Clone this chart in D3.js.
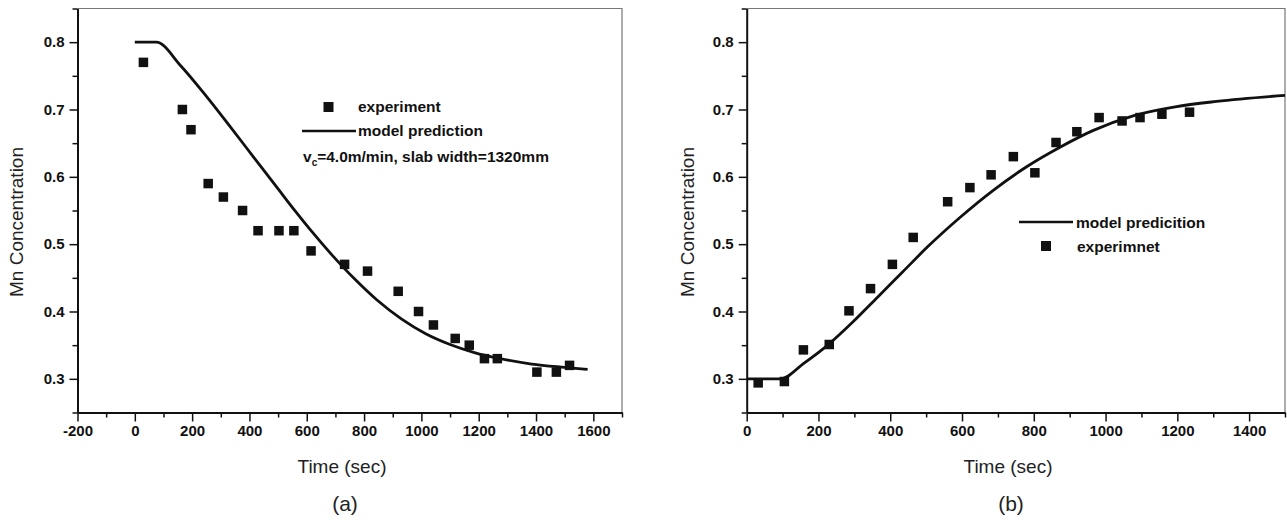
<!DOCTYPE html>
<html>
<head>
<meta charset="utf-8">
<script src="https://cdn.jsdelivr.net/npm/d3@7"></script>
<style>
  body { margin: 0; background: #fff; }
  svg { display: block; font-family: "Liberation Sans", Arial, sans-serif; }
  .tick text { font-weight: bold; font-size: 15px; fill: #111; }
</style>
</head>
<body>
<div class="canvas"></div>
<script>
// panel (a): time (s) and Mn concentration
const expTimeA = [30, 166, 196, 256, 309, 376, 430, 503, 555, 615, 732, 812, 919, 990, 1042, 1118, 1167, 1220, 1265, 1403, 1471, 1517]
const expConcA = [0.77, 0.70, 0.67, 0.59, 0.57, 0.55, 0.52, 0.52, 0.52, 0.49, 0.47, 0.46, 0.43, 0.40, 0.38, 0.36, 0.35, 0.33, 0.33, 0.31, 0.31, 0.32]
const modelTimeA = [0, 75, 160, 245, 330, 415, 500, 560, 615, 690, 770, 845, 930, 1015, 1100, 1185, 1275, 1385, 1500, 1580]
const modelConcA = [0.800, 0.800, 0.765, 0.722, 0.676, 0.629, 0.582, 0.549, 0.520, 0.483, 0.447, 0.417, 0.389, 0.367, 0.351, 0.339, 0.330, 0.322, 0.317, 0.314]

// panel (b)
const expTimeB = [32, 105, 158, 230, 285, 345, 406, 464, 560, 622, 681, 743, 803, 862, 920, 982, 1046, 1096, 1157, 1234]
const expConcB = [0.294, 0.296, 0.343, 0.351, 0.401, 0.434, 0.470, 0.510, 0.563, 0.584, 0.603, 0.630, 0.606, 0.651, 0.667, 0.688, 0.683, 0.688, 0.693, 0.696]
const modelTimeB = [0, 95, 159, 230, 297, 366, 435, 504, 595, 687, 780, 873, 966, 1079, 1194, 1309, 1500]
const modelConcB = [0.300, 0.300, 0.323, 0.352, 0.385, 0.422, 0.459, 0.496, 0.540, 0.580, 0.615, 0.644, 0.669, 0.691, 0.704, 0.712, 0.721]

const xMajorA = [-200, 0, 200, 400, 600, 800, 1000, 1200, 1400, 1600]
const xMinorA = [-100, 100, 300, 500, 700, 900, 1100, 1300, 1500, 1700]
const xMajorB = [0, 200, 400, 600, 800, 1000, 1200, 1400]
const xMinorB = [100, 300, 500, 700, 900, 1100, 1300, 1500]
const yMajor = [0.3, 0.4, 0.5, 0.6, 0.7, 0.8]
const yMinor = [0.25, 0.35, 0.45, 0.55, 0.65, 0.75, 0.85]

const svg = d3.select('.canvas').append('svg').attr('width', 1287).attr('height', 520)

function panel(opt) {
    const x = d3.scaleLinear().domain(opt.xDomain).range([opt.left, opt.right])
    const y = d3.scaleLinear().domain([0.25, 0.85]).range([412.5, 8.5])
    const g = svg.append('g')

    // light top/right frame
    g.append('path')
        .attr('d', `M${opt.left},${y(0.85)}H${opt.right}V${y(0.25)}`)
        .attr('fill', 'none').attr('stroke', '#777').attr('stroke-width', 1.2)

    // minor ticks first, then major axis on top
    g.append('g').attr('transform', `translate(0, ${y(0.25)})`)
        .call(d3.axisBottom(x).tickValues(opt.xMinor).tickSize(5).tickFormat(''))
        .call(a => a.select('.domain').remove())
    g.append('g').attr('transform', `translate(${opt.left}, 0)`)
        .call(d3.axisLeft(y).tickValues(yMinor).tickSize(5).tickFormat(''))
        .call(a => a.select('.domain').remove())

    const xAxis = g.append('g').attr('transform', `translate(0, ${y(0.25)})`)
        .call(d3.axisBottom(x).tickValues(opt.xMajor).tickSize(9).tickSizeOuter(0).tickPadding(4).tickFormat(d => String(d)))
    const yAxis = g.append('g').attr('transform', `translate(${opt.left}, 0)`)
        .call(d3.axisLeft(y).tickValues(yMajor).tickSize(8).tickSizeOuter(0).tickPadding(5).tickFormat(d3.format('.1f')))
    g.selectAll('.tick line').attr('stroke', '#111').attr('stroke-width', 1.5)
    xAxis.select('.domain').attr('stroke', '#111').attr('stroke-width', 2)
    yAxis.select('.domain').attr('stroke', '#111').attr('stroke-width', 2)

    // model curve
    const line = d3.line().x(d => x(d[0])).y(d => y(d[1])).curve(d3.curveMonotoneX)
    g.append('path')
        .datum(opt.modelT.map((t, i) => [t, opt.modelC[i]]))
        .attr('d', line)
        .attr('fill', 'none').attr('stroke', '#111').attr('stroke-width', 2.8)

    // experiment squares
    g.selectAll('rect.pt')
        .data(opt.expT.map((t, i) => [t, opt.expC[i]]))
        .enter().append('rect')
            .attr('class', 'pt')
            .attr('x', d => x(d[0]) - 4.75)
            .attr('y', d => y(d[1]) - 4.75)
            .attr('width', 9.5).attr('height', 9.5)
            .attr('fill', '#111')

    // axis titles
    g.append('text')
        .attr('transform', `translate(${opt.yTitleX}, 222) rotate(-90)`)
        .attr('text-anchor', 'middle').attr('dy', '0.35em')
        .attr('font-size', 19).attr('fill', '#222')
        .text('Mn Concentration')
    g.append('text')
        .attr('x', opt.titleX).attr('y', 473)
        .attr('text-anchor', 'middle').attr('font-size', 19).attr('fill', '#222')
        .text('Time (sec)')
    g.append('text')
        .attr('x', opt.titleX + 3).attr('y', 511)
        .attr('text-anchor', 'middle').attr('font-size', 21).attr('fill', '#222')
        .text(opt.label)

    return {x, y, g}
}

const a = panel({
    left: 77.5, right: 622, xDomain: [-200, 1700],
    xMajor: xMajorA, xMinor: xMinorA,
    modelT: modelTimeA, modelC: modelConcA, expT: expTimeA, expC: expConcA,
    yTitleX: 16, titleX: 342, label: '(a)'
})

const b = panel({
    left: 746.7, right: 1285, xDomain: [0, 1500],
    xMajor: xMajorB, xMinor: xMinorB,
    modelT: modelTimeB, modelC: modelConcB, expT: expTimeB, expC: expConcB,
    yTitleX: 687, titleX: 1008, label: '(b)'
})

// legend (a)
const legA = a.g.append('g').attr('font-weight', 'bold').attr('font-size', 15.5).attr('fill', '#111')
legA.append('rect').attr('x', 323.5).attr('y', 102).attr('width', 10).attr('height', 10).attr('fill', '#111')
legA.append('text').attr('x', 358).attr('y', 107).attr('dy', '0.35em').text('experiment')
legA.append('line').attr('x1', 302).attr('x2', 356).attr('y1', 131).attr('y2', 131).attr('stroke', '#111').attr('stroke-width', 2.5)
legA.append('text').attr('x', 358).attr('y', 131).attr('dy', '0.35em').text('model prediction')
const vc = legA.append('text').attr('x', 303).attr('y', 162)
vc.append('tspan').text('v')
vc.append('tspan').attr('font-size', 10).attr('dy', 4).text('c')
vc.append('tspan').attr('dy', -4).text('=4.0m/min, slab width=1320mm')

// legend (b)
const legB = b.g.append('g').attr('font-weight', 'bold').attr('font-size', 15.5).attr('fill', '#111')
legB.append('line').attr('x1', 1019).attr('x2', 1073).attr('y1', 222).attr('y2', 222).attr('stroke', '#111').attr('stroke-width', 2.5)
legB.append('text').attr('x', 1076).attr('y', 223).attr('dy', '0.35em').text('model predicition')
legB.append('rect').attr('x', 1041).attr('y', 241).attr('width', 10).attr('height', 10).attr('fill', '#111')
legB.append('text').attr('x', 1077).attr('y', 247).attr('dy', '0.35em').text('experimnet')
</script>
</body>
</html>
